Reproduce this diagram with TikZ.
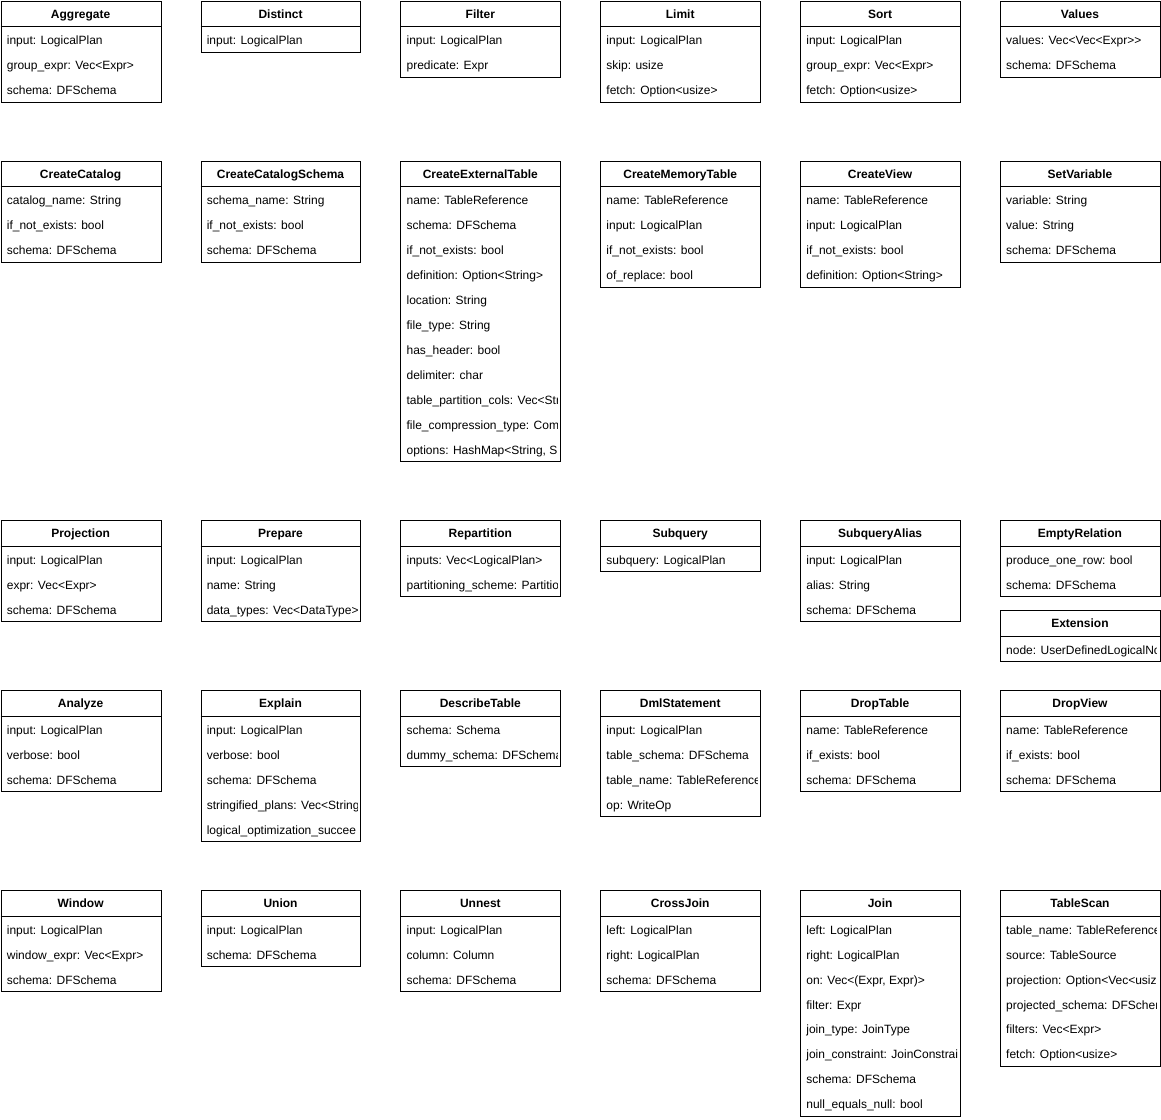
\documentclass[tikz,border=0pt]{standalone}
\usepackage{fontspec}
\setmainfont{Liberation Sans}
\tikzset{
  umlframe/.style={draw=black, line width=1pt, fill=white, inner sep=0pt, minimum width=160pt, anchor=north west},
  umlsep/.style={draw=black, line width=1pt},
  umltitle/.style={font=\fontsize{12}{14}\selectfont\bfseries, inner sep=0pt, anchor=base},
  umlfield/.style={font=\fontsize{12}{14}\selectfont, inner sep=0pt, anchor=base west},
}
% name, x, y(top), number of fields, title, fields
\newcommand{\umlclass}[6]{%
  \pgfmathsetmacro{\umlh}{26+25*#4}%
  \node[umlframe, minimum height=\umlh pt] (#1) at (#2,#3) {};
  \draw[umlsep] (#2,#3+26) -- (#2+160,#3+26);
  \node[umltitle] (#1-title) at (#2+80,#3+17.5) {#5};
  \begin{scope}
    \clip (#2,#3) rectangle (#2+157,#3+\umlh);
    \foreach \f [count=\i] in {#6} {
      \node[umlfield] (#1-f\i) at (#2+6,#3+44+25*\i-25) {\f};
    }
  \end{scope}
}
\begin{document}
\begin{tikzpicture}[x=1pt,y=-1pt]
\fill[white] (-0.2,-0.2) rectangle (1161.6,1120);
\useasboundingbox (-0.2,-0.2) rectangle (1161.6,1120);
% Row 1
\umlclass{aggregate}{0.5}{0.5}{3}{Aggregate}{{input: LogicalPlan},{group\_expr: Vec<Expr>},{schema: DFSchema}}
\umlclass{distinct}{200.5}{0.5}{1}{Distinct}{{input: LogicalPlan}}
\umlclass{filter}{400.5}{0.5}{2}{Filter}{{input: LogicalPlan},{predicate: Expr}}
\umlclass{limit}{600.5}{0.5}{3}{Limit}{{input: LogicalPlan},{skip: usize},{fetch: Option<usize>}}
\umlclass{sort}{800.5}{0.5}{3}{Sort}{{input: LogicalPlan},{group\_expr: Vec<Expr>},{fetch: Option<usize>}}
\umlclass{values}{1000.5}{0.5}{2}{Values}{{values: Vec<Vec<Expr>{}>},{schema: DFSchema}}
% Row 2
\umlclass{createcatalog}{0.5}{160.5}{3}{CreateCatalog}{{catalog\_name: String},{if\_not\_exists: bool},{schema: DFSchema}}
\umlclass{createcatalogschema}{200.5}{160.5}{3}{CreateCatalogSchema}{{schema\_name: String},{if\_not\_exists: bool},{schema: DFSchema}}
\umlclass{createexternaltable}{400.5}{160.5}{11}{CreateExternalTable}{{name: TableReference},{schema: DFSchema},{if\_not\_exists: bool},{definition: Option<String>},{location: String},{file\_type: String},{has\_header: bool},{delimiter: char},{table\_partition\_cols: Vec<Str},{file\_compression\_type: Com},{options: HashMap<String, S}}
\umlclass{creatememorytable}{600.5}{160.5}{4}{CreateMemoryTable}{{name: TableReference},{input: LogicalPlan},{if\_not\_exists: bool},{of\_replace: bool}}
\umlclass{createview}{800.5}{160.5}{4}{CreateView}{{name: TableReference},{input: LogicalPlan},{if\_not\_exists: bool},{definition: Option<String>}}
\umlclass{setvariable}{1000.5}{160.5}{3}{SetVariable}{{variable: String},{value: String},{schema: DFSchema}}
% Row 3
\umlclass{projection}{0.5}{520.5}{3}{Projection}{{input: LogicalPlan},{expr: Vec<Expr>},{schema: DFSchema}}
\umlclass{prepare}{200.5}{520.5}{3}{Prepare}{{input: LogicalPlan},{name: String},{data\_types: Vec<DataType>}}
\umlclass{repartition}{400.5}{520.5}{2}{Repartition}{{inputs: Vec<LogicalPlan>},{partitioning\_scheme: Partitio}}
\umlclass{subquery}{600.5}{520.5}{1}{Subquery}{{subquery: LogicalPlan}}
\umlclass{subqueryalias}{800.5}{520.5}{3}{SubqueryAlias}{{input: LogicalPlan},{alias: String},{schema: DFSchema}}
\umlclass{emptyrelation}{1000.5}{520.5}{2}{EmptyRelation}{{produce\_one\_row: bool},{schema: DFSchema}}
\umlclass{extension}{1000.5}{610.5}{1}{Extension}{{node: UserDefinedLogicalNo}}
% Row 4
\umlclass{analyze}{0.5}{690.5}{3}{Analyze}{{input: LogicalPlan},{verbose: bool},{schema: DFSchema}}
\umlclass{explain}{200.5}{690.5}{5}{Explain}{{input: LogicalPlan},{verbose: bool},{schema: DFSchema},{stringified\_plans: Vec<String},{logical\_optimization\_succee}}
\umlclass{describetable}{400.5}{690.5}{2}{DescribeTable}{{schema: Schema},{dummy\_schema: DFSchema}}
\umlclass{dmlstatement}{600.5}{690.5}{4}{DmlStatement}{{input: LogicalPlan},{table\_schema: DFSchema},{table\_name: TableReference},{op: WriteOp}}
\umlclass{droptable}{800.5}{690.5}{3}{DropTable}{{name: TableReference},{if\_exists: bool},{schema: DFSchema}}
\umlclass{dropview}{1000.5}{690.5}{3}{DropView}{{name: TableReference},{if\_exists: bool},{schema: DFSchema}}
% Row 5
\umlclass{window}{0.5}{890.5}{3}{Window}{{input: LogicalPlan},{window\_expr: Vec<Expr>},{schema: DFSchema}}
\umlclass{union}{200.5}{890.5}{2}{Union}{{input: LogicalPlan},{schema: DFSchema}}
\umlclass{unnest}{400.5}{890.5}{3}{Unnest}{{input: LogicalPlan},{column: Column},{schema: DFSchema}}
\umlclass{crossjoin}{600.5}{890.5}{3}{CrossJoin}{{left: LogicalPlan},{right: LogicalPlan},{schema: DFSchema}}
\umlclass{join}{800.5}{890.5}{8}{Join}{{left: LogicalPlan},{right: LogicalPlan},{on: Vec<(Expr, Expr)>},{filter: Expr},{join\_type: JoinType},{join\_constraint: JoinConstrai},{schema: DFSchema},{null\_equals\_null: bool}}
\umlclass{tablescan}{1000.5}{890.5}{6}{TableScan}{{table\_name: TableReference},{source: TableSource},{projection: Option<Vec<usiz},{projected\_schema: DFSchem},{filters: Vec<Expr>},{fetch: Option<usize>}}
\end{tikzpicture}
\end{document}
